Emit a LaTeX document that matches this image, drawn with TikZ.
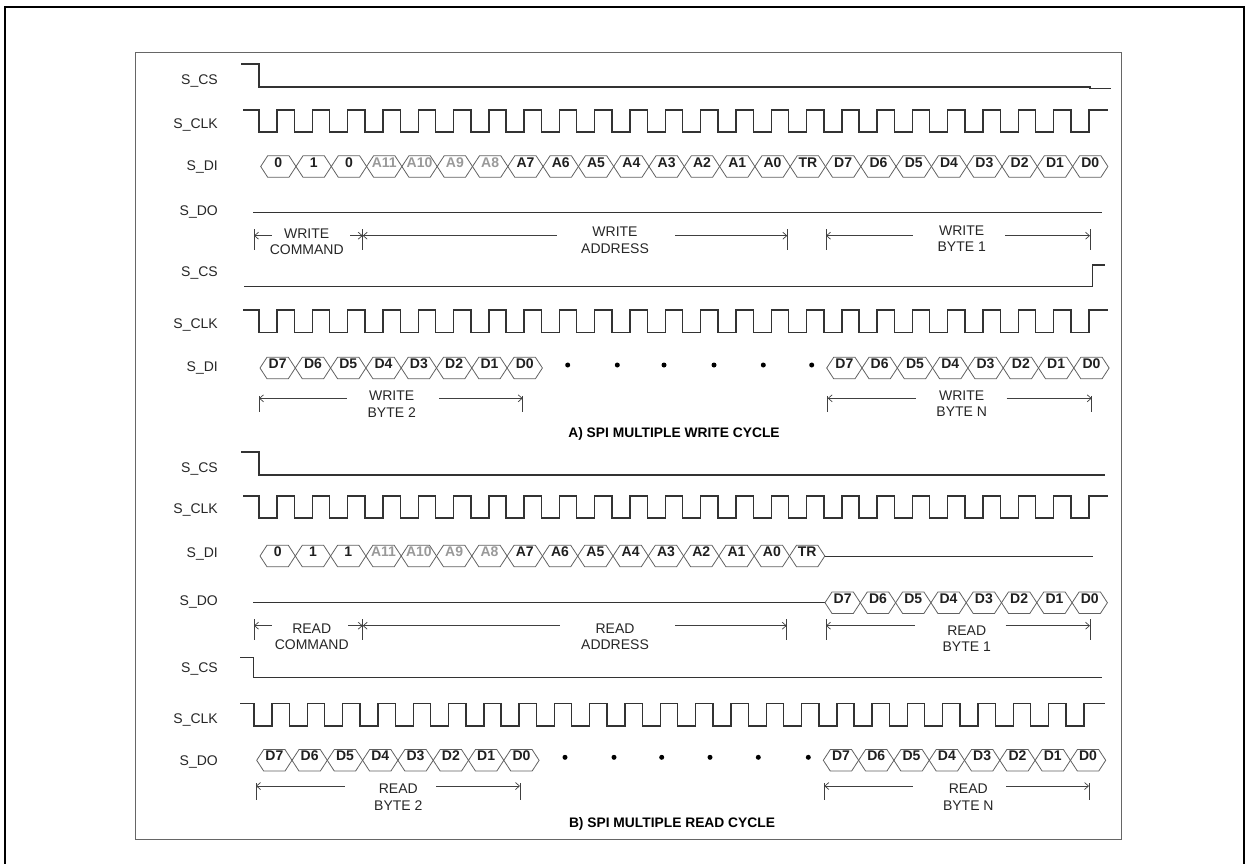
\documentclass[tikz,border=0pt]{standalone}
\usepackage{fontspec}
\setmainfont{Liberation Sans}
\usetikzlibrary{arrows.meta}
\newcommand\hexcell[5]{%
  \draw[hexbox] ({#2},{#3}) -- ++(7,-10.75) -- ++(21.3,0) -- ++(7,10.75) -- ++(-7,10.75) -- ++(-21.3,0) -- cycle;
  \node[#5] (#1) at ({#2+17.65},{#3+0.6}) {#4};}
\newcommand\hexrow[4]{%
  \foreach \lab/\sty [count=\i from 0] in {#4} {\hexcell{#1\i}{#2+35.3*\i}{#3}{\lab}{\sty}}}
\newcommand\clkrow[6]{%
  \draw[wave] (#1,#3) \foreach \k in {0,...,#5} { -- ({#2+35.3*\k},#3) -- ({#2+35.3*\k},#4) -- ({#2+18+35.3*\k},#4) -- ({#2+18+35.3*\k},#3)} -- (#6,#3);}
\def\bartop{6.5}
\newcommand\dimann[9]{%
  \coordinate (#1l) at (#3,#2); \coordinate (#1r) at (#6,#2);
  \draw[dimline] (#3,#2-\bartop) -- (#3,#2+14);
  \draw[dimline] (#6,#2-\bartop) -- (#6,#2+14);
  \draw[dimline,{Straight Barb[length=4pt,width=7pt]}-] (#1l) -- (#4,#2);
  \draw[dimline,-{Straight Barb[length=4pt,width=7pt]}] (#5,#2) -- (#1r);
  \node[annot] (#1t) at (#7,#8) {#9};}
\newcommand\sig[3]{\node[siglbl] (#1) at (218,#2+5) {#3};}
\begin{document}
\begin{tikzpicture}[x=1pt,y=-1pt,
  wave/.style={draw=black!80, line width=1.4pt},
  hexbox/.style={draw=black!62, line width=0.8pt},
  hexlbl/.style={font=\fontsize{14}{14}\selectfont\bfseries, text=black!88, inner sep=0pt, anchor=base},
  gry/.style={hexlbl, text=black!40},
  siglbl/.style={font=\fontsize{14}{17}\selectfont, text=black!85, anchor=base east, inner sep=0pt},
  annot/.style={font=\fontsize{14}{16.5}\selectfont, text=black!85, align=center, inner sep=0pt},
  dimline/.style={draw=black!75, line width=0.7pt},
  ttl/.style={font=\fontsize{13.8}{16}\selectfont\bfseries, inner sep=0pt},
  dotm/.style={circle, fill=black, inner sep=0pt, minimum size=5pt},
]
\useasboundingbox (0,0) rectangle (1249,863);
% frames
\draw[black, line width=2.2pt] (5,870) -- (5,7) -- (1244,7) -- (1244,870);
\draw[black!60, line width=0.9pt] (135,52.3) rectangle (1121,839.3);

% ===== A part 1 =====
\sig{a1cs}{79}{S\_CS}
\sig{a1clk}{123}{S\_CLK}
\sig{a1di}{165}{S\_DI}
\sig{a1do}{210}{S\_DO}
\draw[wave] (241,64) -- (259,64) -- (259,87) -- (1090,87) -- (1090,88.3) -- (1111,88.3);
\clkrow{243}{259}{110}{132}{23}{1108}
\hexrow{a1h}{260.7}{166.5}{0/hexlbl,1/hexlbl,0/hexlbl,A11/gry,A10/gry,A9/gry,A8/gry,A7/hexlbl,A6/hexlbl,A5/hexlbl,A4/hexlbl,A3/hexlbl,A2/hexlbl,A1/hexlbl,A0/hexlbl,TR/hexlbl,D7/hexlbl,D6/hexlbl,D5/hexlbl,D4/hexlbl,D3/hexlbl,D2/hexlbl,D1/hexlbl,D0/hexlbl}
\draw[wave] (253,212.3) -- (1102,212.3);
\def\bartop{6.5}
\dimann{a1c}{235.7}{254}{271.7}{350}{362.7}{306.7}{241.5}{WRITE\\COMMAND}
\dimann{a1a}{235.7}{362.7}{557}{675}{787.3}{615}{240}{WRITE\\ADDRESS}
\dimann{a1b}{235.7}{826}{913}{1005}{1090}{961.7}{238.7}{WRITE\\BYTE 1}

% ===== A part 2 =====
\sig{a2cs}{271.7}{S\_CS}
\sig{a2clk}{323}{S\_CLK}
\sig{a2di}{366.7}{S\_DI}
\draw[wave] (244,286.7) -- (1092.7,286.7) -- (1092.7,265) -- (1105,265);
\clkrow{243}{259}{310}{332.7}{23}{1108}
\hexrow{a2h}{260}{368}{D7/hexlbl,D6/hexlbl,D5/hexlbl,D4/hexlbl,D3/hexlbl,D2/hexlbl,D1/hexlbl,D0/hexlbl}
\hexrow{a2n}{826.7}{368}{D7/hexlbl,D6/hexlbl,D5/hexlbl,D4/hexlbl,D3/hexlbl,D2/hexlbl,D1/hexlbl,D0/hexlbl}
\foreach \x [count=\i] in {567.7,617.3,664,714,763.3,811.7} \node[dotm] (a2d\i) at (\x,365) {};
\def\bartop{2.5}
\dimann{a2b}{398.3}{259}{347}{439}{522.7}{391.7}{404.3}{WRITE\\BYTE 2}
\dimann{a2n}{398.3}{827.7}{916}{1006.7}{1091.7}{961.7}{403.8}{WRITE\\BYTE N}
\node[ttl] (ttla) at (674,434) {A) SPI MULTIPLE WRITE CYCLE};

% ===== B part 1 =====
\sig{b1cs}{467}{S\_CS}
\sig{b1clk}{508}{S\_CLK}
\sig{b1di}{552}{S\_DI}
\sig{b1do}{600}{S\_DO}
\draw[wave] (241,452) -- (259,452) -- (259,475) -- (1105,475);
\clkrow{243}{259}{496}{518}{23}{1108}
\hexrow{b1h}{260}{556}{0/hexlbl,1/hexlbl,1/hexlbl,A11/gry,A10/gry,A9/gry,A8/gry,A7/hexlbl,A6/hexlbl,A5/hexlbl,A4/hexlbl,A3/hexlbl,A2/hexlbl,A1/hexlbl,A0/hexlbl,TR/hexlbl}
\coordinate (b1diend) at (824.8,556);
\draw[wave, line width=1pt] (b1diend) -- (1093,556);
\draw[wave] (253,602.7) -- (825,602.7);
\hexrow{b1o}{825}{602.7}{D7/hexlbl,D6/hexlbl,D5/hexlbl,D4/hexlbl,D3/hexlbl,D2/hexlbl,D1/hexlbl,D0/hexlbl}
\def\bartop{6.5}
\dimann{b1c}{625.7}{254}{271.7}{348}{362.7}{311.7}{636.8}{READ\\COMMAND}
\dimann{b1a}{625.7}{362.7}{560}{675}{786.7}{615}{636.5}{READ\\ADDRESS}
\dimann{b1b}{625.7}{826}{915}{1005.7}{1090}{966.7}{638.7}{READ\\BYTE 1}

% ===== B part 2 =====
\sig{b2cs}{667.3}{S\_CS}
\sig{b2clk}{718.3}{S\_CLK}
\sig{b2do}{760}{S\_DO}
\draw[wave] (240,657.3) -- (253.3,657.3) -- (253.3,677.3) -- (1101.7,677.3);
\clkrow{240}{254}{703.3}{726}{23}{1105}
\hexrow{b2h}{256.7}{760.3}{D7/hexlbl,D6/hexlbl,D5/hexlbl,D4/hexlbl,D3/hexlbl,D2/hexlbl,D1/hexlbl,D0/hexlbl}
\hexrow{b2n}{823.3}{760.3}{D7/hexlbl,D6/hexlbl,D5/hexlbl,D4/hexlbl,D3/hexlbl,D2/hexlbl,D1/hexlbl,D0/hexlbl}
\foreach \x [count=\i] in {565,614,661.7,710,758.3,808.3} \node[dotm] (b2d\i) at (\x,757.3) {};
\def\bartop{2.7}
\dimann{b2b}{786}{256}{345}{436}{520}{398.3}{797}{READ\\BYTE 2}
\dimann{b2n}{786}{824.3}{913.3}{1006}{1089}{968.3}{797}{READ\\BYTE N}
\node[ttl] (ttlb) at (672,824) {B) SPI MULTIPLE READ CYCLE};
\end{tikzpicture}
\end{document}
